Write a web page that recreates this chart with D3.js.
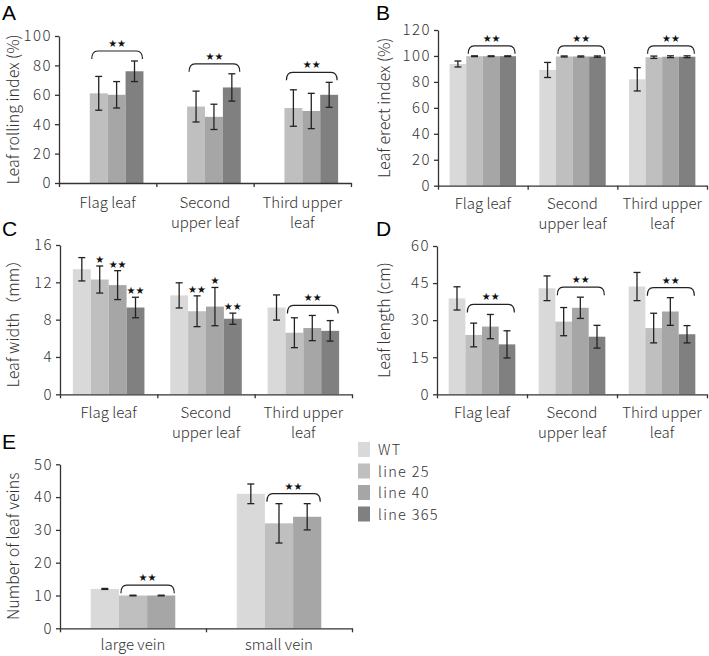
<!DOCTYPE html>
<html>
<head>
<meta charset="utf-8">
<script src="https://cdn.jsdelivr.net/npm/d3@7"></script>
<style>
body { margin: 0; background: #fff; }
svg text { font-family: "Noto Sans CJK SC", "Noto Sans", sans-serif; font-weight: 300; fill: #333; }
</style>
</head>
<body>
<div id="chart"></div>
<script>
//Width and height
var w = 709;
var h = 656;

var seriesNames = ["WT", "line 25", "line 40", "line 365"];
var seriesColors = ["#d9d9d9", "#bfbfbf", "#a6a6a6", "#808080"];

var leafGroups = [["Flag leaf"], ["Second", "upper leaf"], ["Third upper", "leaf"]];
var veinGroups = [["large vein"], ["small vein"]];

// A - leaf rolling index (no WT bar)
var rollingMean = [[null, 61, 60, 76], [null, 52, 45, 65], [null, 51, 49, 60]];
var rollingErr  = [[null, 11.5, 9, 7], [null, 10.5, 8.6, 9.3], [null, 12.4, 12, 8.5]];
var rollingTicks = [0, 20, 40, 60, 80, 100];

// B - leaf erect index
var erectMean = [[93.8, 99.8, 99.8, 99.8], [89.2, 99.6, 99.6, 99.5], [82, 99, 99.4, 99.4]];
var erectErr  = [[2.3, 0.3, 0.3, 0.3], [5.8, 0.4, 0.4, 0.5], [9, 0.9, 0.7, 0.7]];
var erectTicks = [0, 20, 40, 60, 80, 100, 120];

// C - leaf width
var widthMean = [[13.4, 12.3, 11.7, 9.3], [10.6, 8.9, 9.4, 8.1], [9.3, 6.6, 7.1, 6.8]];
var widthErr  = [[1.25, 1.45, 1.55, 1.1], [1.35, 1.65, 2.05, 0.6], [1.35, 1.6, 1.35, 1.1]];
var widthStars = [[null, "*", "**", "**"], [null, "**", "*", "**"], [null, null, null, null]];
var widthTicks = [0, 4, 8, 12, 16];

// D - leaf length
var lengthMean = [[38.8, 24, 27.4, 20.2], [42.9, 29.4, 35, 23.3], [43.6, 26.8, 33.5, 24.3]];
var lengthErr  = [[4.7, 4.8, 4.9, 5.5], [5, 5.7, 4.3, 4.6], [5.7, 6, 5.6, 3.5]];
var lengthTicks = [0, 15, 30, 45, 60];

// E - number of leaf veins (WT, line 25, line 40)
var veinMean = [[12, 10, 10], [41, 32, 34]];
var veinErr  = [[0.15, 0.1, 0.1], [3, 6, 4]];
var veinTicks = [0, 10, 20, 30, 40, 50];

// brackets: [group, first series, last series]
var rollingBrackets = [[0, 1, 3], [1, 1, 3], [2, 1, 3]];
var erectBrackets = [[0, 1, 3], [1, 1, 3], [2, 1, 3]];
var widthBrackets = [[2, 1, 3]];
var lengthBrackets = [[0, 1, 3], [1, 1, 3], [2, 1, 3]];
var veinBrackets = [[0, 1, 2], [1, 1, 2]];

var svg = d3.select("#chart")
  .append("svg")
  .attr("width", w)
  .attr("height", h);

function stars(s) {
  return s.replace(/\*/g, "\u2605");
}

function drawPanel(p) {
  var g = svg.append("g");
  var nSeries = p.series.length;

  var y = d3.scaleLinear()
    .domain([0, p.ticks[p.ticks.length - 1]])
    .range([p.bottom, p.top]);

  var x0 = d3.scaleBand()
    .domain(d3.range(p.groups.length))
    .range([p.left, p.right])
    .paddingInner(0);

  var x1 = d3.scaleBand()
    .domain(d3.range(nSeries))
    .range([0, x0.bandwidth()])
    .paddingInner(0)
    .paddingOuter(p.outer);

  var xb = d3.scaleLinear()
    .domain([0, p.groups.length])
    .range([p.left, p.right]);

  // bars
  var cells = [];
  p.mean.forEach(function(row, gi) {
    row.forEach(function(v, si) {
      if (v !== null) cells.push({ g: gi, s: si, v: v, e: p.err[gi][si], star: p.stars ? p.stars[gi][si] : null });
    });
  });

  g.selectAll("rect.bar")
    .data(cells)
    .enter()
    .append("rect")
    .attr("class", "bar")
    .attr("x", function(d) { return x0(d.g) + x1(d.s); })
    .attr("y", function(d) { return y(d.v); })
    .attr("width", x1.bandwidth())
    .attr("height", function(d) { return y(0) - y(d.v); })
    .attr("fill", function(d) { return p.colors[d.s]; });

  // axes
  var yAxis = d3.axisLeft(y).tickValues(p.ticks).tickSize(4).tickSizeOuter(0).tickPadding(3);
  var ya = g.append("g").attr("transform", "translate(" + p.left + ",0)").call(yAxis);
  ya.selectAll("text").style("font-size", "15px").style("letter-spacing", "1.5px");

  var xAxis = d3.axisBottom(xb).tickValues(d3.range(p.groups.length + 1)).tickSize(4).tickSizeOuter(0).tickFormat("");
  g.append("g").attr("transform", "translate(0," + p.bottom + ")").call(xAxis);

  g.selectAll(".domain, .tick line").attr("stroke", "#333").attr("stroke-width", 1.3);

  // group labels
  p.groups.forEach(function(lines, gi) {
    var t = g.append("text")
      .attr("text-anchor", "middle")
      .attr("x", x0(gi) + x0.bandwidth() / 2)
      .attr("y", p.bottom + p.labelDy)
      .style("font-size", "15px");
    lines.forEach(function(l, li) {
      t.append("tspan")
        .attr("x", x0(gi) + x0.bandwidth() / 2)
        .attr("dy", li === 0 ? 0 : 20)
        .text(l);
    });
  });

  // y title
  g.append("text")
    .attr("transform", "translate(" + p.titleX + "," + (p.top + p.bottom) / 2 + ") rotate(-90)")
    .attr("text-anchor", "middle")
    .attr("dominant-baseline", "central")
    .style("font-size", "16px")
    .text(p.title);

  // panel letter
  g.append("text")
    .attr("x", p.letterX)
    .attr("y", p.letterY)
    .style("font-family", "Liberation Sans, Arial, sans-serif")
    .style("font-weight", "400")
    .style("font-size", "21px")
    .style("fill", "#000")
    .text(p.letter);

  // error bars
  var cap = 3.5;
  var eb = g.selectAll("g.err")
    .data(cells)
    .enter()
    .append("g")
    .attr("class", "err");
  eb.append("line")
    .attr("x1", function(d) { return x0(d.g) + x1(d.s) + x1.bandwidth() / 2; })
    .attr("x2", function(d) { return x0(d.g) + x1(d.s) + x1.bandwidth() / 2; })
    .attr("y1", function(d) { return y(d.v + d.e); })
    .attr("y2", function(d) { return y(d.v - d.e); });
  eb.append("line")
    .attr("x1", function(d) { return x0(d.g) + x1(d.s) + x1.bandwidth() / 2 - cap; })
    .attr("x2", function(d) { return x0(d.g) + x1(d.s) + x1.bandwidth() / 2 + cap; })
    .attr("y1", function(d) { return y(d.v + d.e); })
    .attr("y2", function(d) { return y(d.v + d.e); });
  eb.append("line")
    .attr("x1", function(d) { return x0(d.g) + x1(d.s) + x1.bandwidth() / 2 - cap; })
    .attr("x2", function(d) { return x0(d.g) + x1(d.s) + x1.bandwidth() / 2 + cap; })
    .attr("y1", function(d) { return y(d.v - d.e); })
    .attr("y2", function(d) { return y(d.v - d.e); });
  eb.selectAll("line").attr("stroke", "#222").attr("stroke-width", 1.3);

  // single stars
  g.selectAll("text.star")
    .data(cells.filter(function(d) { return d.star; }))
    .enter()
    .append("text")
    .attr("class", "star")
    .attr("text-anchor", "middle")
    .attr("x", function(d) { return x0(d.g) + x1(d.s) + x1.bandwidth() / 2; })
    .attr("y", function(d) { return y(d.v + d.e) - 3; })
    .style("font-family", "DejaVu Sans, sans-serif")
    .style("font-weight", "400")
    .style("font-size", "10px")
    .style("fill", "#111")
    .text(function(d) { return stars(d.star); });

  // brackets
  p.brackets.forEach(function(b) {
    var gi = b[0];
    var top = d3.max(d3.range(b[1], b[2] + 1), function(si) { return p.mean[gi][si] + p.err[gi][si]; });
    var yEnd = y(top) - 2;
    var yLine = yEnd - 8;
    var xa = x0(gi) + x1(b[1]) + 2;
    var xz = x0(gi) + x1(b[2]) + x1.bandwidth() - 1;
    var r = 6;
    g.append("path")
      .attr("d", "M" + xa + "," + yEnd + " Q" + xa + "," + yLine + " " + (xa + r) + "," + yLine +
                 " L" + (xz - r) + "," + yLine + " Q" + xz + "," + yLine + " " + xz + "," + yEnd)
      .attr("fill", "none")
      .attr("stroke", "#222")
      .attr("stroke-width", 1.2);
    g.append("text")
      .attr("text-anchor", "middle")
      .attr("x", (xa + xz) / 2)
      .attr("y", yLine - 4)
      .style("font-family", "DejaVu Sans, sans-serif")
      .style("font-weight", "400")
      .style("font-size", "10px")
      .style("fill", "#111")
      .text(stars("**"));
  });
}

drawPanel({ letter: "A", letterX: 2, letterY: 20, title: "Leaf rolling index (%)", titleX: 12,
  left: 59, right: 351, top: 36, bottom: 183, outer: 0.72, labelDy: 25,
  groups: leafGroups, series: seriesNames, colors: seriesColors,
  mean: rollingMean, err: rollingErr, ticks: rollingTicks, brackets: rollingBrackets });

drawPanel({ letter: "B", letterX: 376, letterY: 20, title: "Leaf erect index (%)", titleX: 383,
  left: 438, right: 707, top: 30, bottom: 185.7, outer: 0.7, labelDy: 23,
  groups: leafGroups, series: seriesNames, colors: seriesColors,
  mean: erectMean, err: erectErr, ticks: erectTicks, brackets: erectBrackets });

drawPanel({ letter: "C", letterX: 2, letterY: 236, title: "Leaf width\uff08mm\uff09", titleX: 12,
  left: 60, right: 352, top: 245, bottom: 394.3, outer: 0.72, labelDy: 24,
  groups: leafGroups, series: seriesNames, colors: seriesColors,
  mean: widthMean, err: widthErr, stars: widthStars, ticks: widthTicks, brackets: widthBrackets });

drawPanel({ letter: "D", letterX: 376, letterY: 236, title: "Leaf length (cm)", titleX: 383,
  left: 437, right: 707, top: 246, bottom: 394.3, outer: 0.7, labelDy: 24,
  groups: leafGroups, series: seriesNames, colors: seriesColors,
  mean: lengthMean, err: lengthErr, ticks: lengthTicks, brackets: lengthBrackets });

drawPanel({ letter: "E", letterX: 2, letterY: 449, title: "Number of leaf veins", titleX: 12,
  left: 60, right: 352, top: 464.3, bottom: 628.3, outer: 1.09, labelDy: 22,
  groups: veinGroups, series: seriesNames.slice(0, 3), colors: seriesColors,
  mean: veinMean, err: veinErr, ticks: veinTicks, brackets: veinBrackets });

// legend
var legend = svg.append("g");
legend.selectAll("rect")
  .data(seriesNames)
  .enter()
  .append("rect")
  .attr("x", 358)
  .attr("y", function(d, i) { return 442 + i * 21.5; })
  .attr("width", 12)
  .attr("height", 15)
  .attr("fill", function(d, i) { return seriesColors[i]; });
legend.selectAll("text")
  .data(seriesNames)
  .enter()
  .append("text")
  .attr("x", 378)
  .attr("y", function(d, i) { return 455 + i * 21.5; })
  .style("font-size", "14.5px")
  .style("letter-spacing", "1.3px")
  .text(function(d) { return d; });
</script>
</body>
</html>
